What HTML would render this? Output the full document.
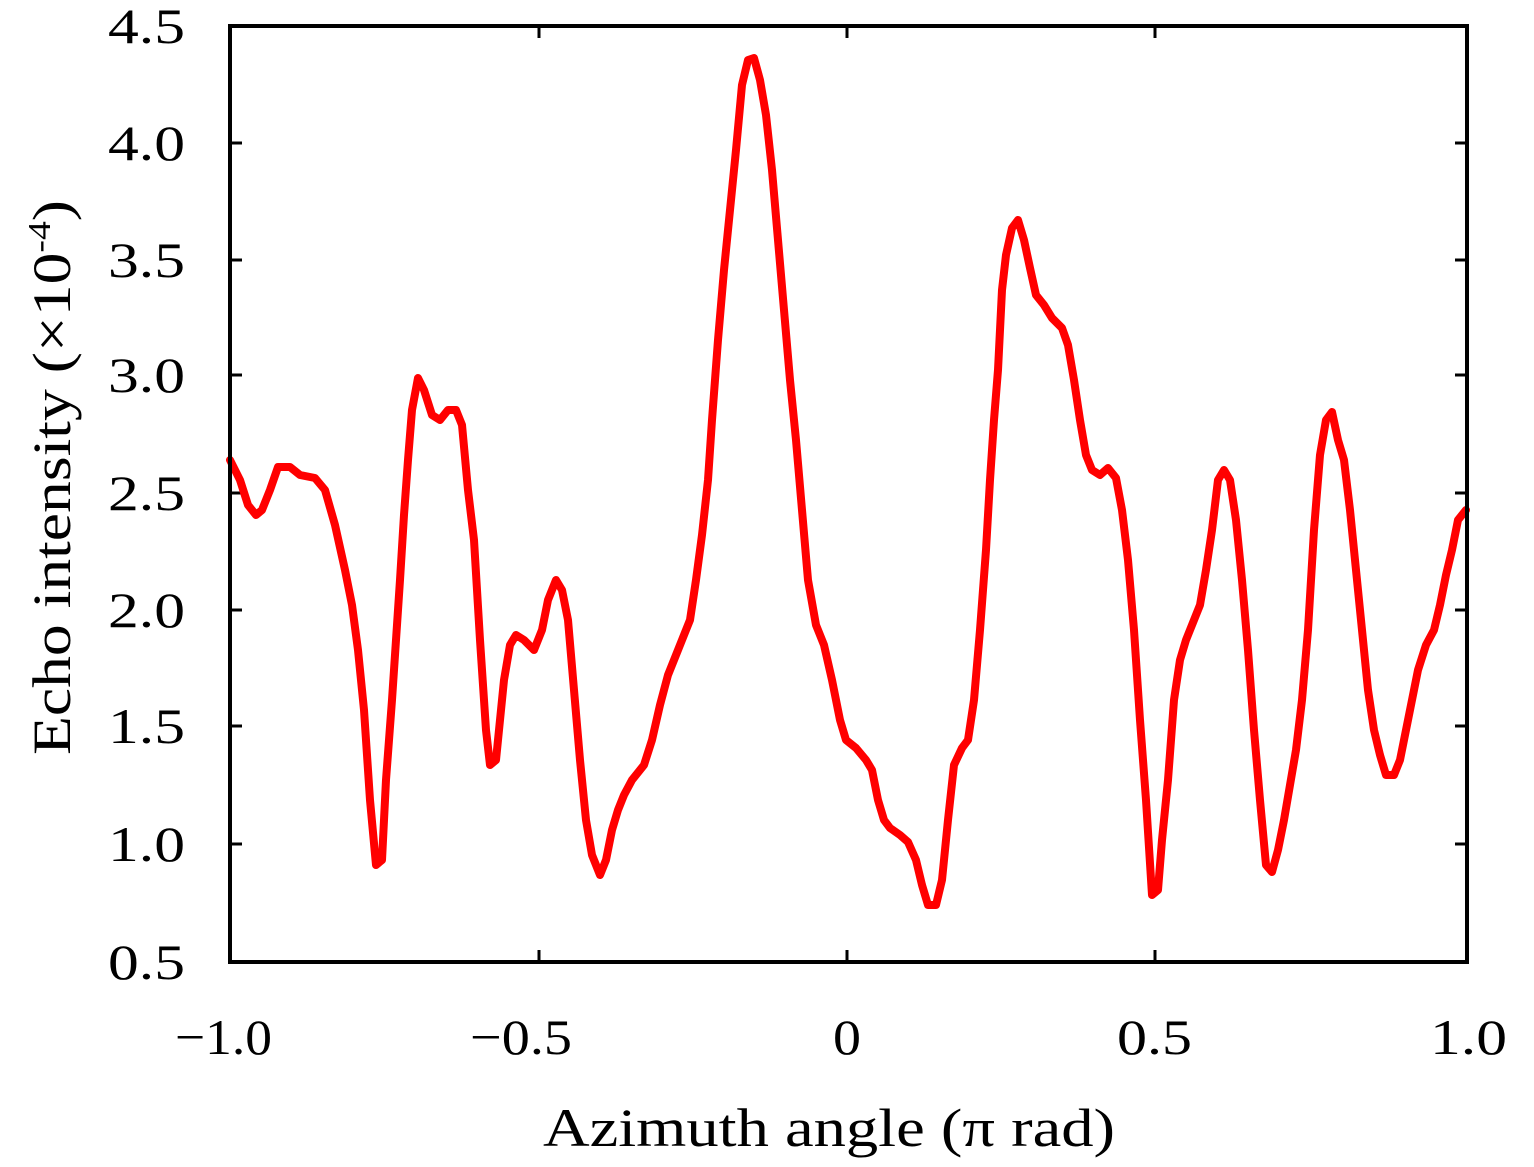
<!DOCTYPE html>
<html><head><meta charset="utf-8"><style>
html,body{margin:0;padding:0;background:#fff;}
svg text{font-family:"Liberation Serif",serif;fill:#000;}
</style></head><body>
<svg width="1534" height="1162" viewBox="0 0 1534 1162" xmlns="http://www.w3.org/2000/svg">
<rect width="1534" height="1162" fill="#fff"/>
<g stroke="#000" stroke-width="3">
<line x1="230" y1="143" x2="242" y2="143"/><line x1="230" y1="260" x2="242" y2="260"/><line x1="230" y1="375" x2="242" y2="375"/><line x1="230" y1="493" x2="242" y2="493"/><line x1="230" y1="610" x2="242" y2="610"/><line x1="230" y1="726" x2="242" y2="726"/><line x1="230" y1="844" x2="242" y2="844"/>
<line x1="1467" y1="143" x2="1455" y2="143"/><line x1="1467" y1="260" x2="1455" y2="260"/><line x1="1467" y1="375" x2="1455" y2="375"/><line x1="1467" y1="493" x2="1455" y2="493"/><line x1="1467" y1="610" x2="1455" y2="610"/><line x1="1467" y1="726" x2="1455" y2="726"/><line x1="1467" y1="844" x2="1455" y2="844"/>
<line x1="539" y1="962" x2="539" y2="950"/><line x1="847" y1="962" x2="847" y2="950"/><line x1="1155" y1="962" x2="1155" y2="950"/>
<line x1="539" y1="26" x2="539" y2="38"/><line x1="847" y1="26" x2="847" y2="38"/><line x1="1155" y1="26" x2="1155" y2="38"/>
</g>
<polyline fill="none" stroke="#ff0000" stroke-width="8" stroke-linejoin="round" stroke-linecap="round" points="230,460 240,480 248,505 256,515 262,510 270,490 278,467 290,467 300,475 315,478 325,490 335,525 345,570 352,605 358,650 364,710 370,800 376,865 382,860 386,780 392,700 396,640 400,580 404,515 408,460 412,410 418,378 424,390 432,415 440,420 448,410 456,410 462,425 468,490 474,540 480,640 486,730 490,765 496,760 500,720 504,680 510,645 516,635 524,640 534,650 542,630 548,600 556,580 562,590 568,620 574,690 580,760 586,820 592,855 600,875 606,860 612,830 618,810 624,795 632,780 644,765 652,740 660,705 668,675 678,650 690,620 696,580 702,535 708,480 712,420 718,340 724,270 730,210 736,150 742,85 748,60 754,58 760,80 766,115 772,170 778,240 784,310 790,380 796,440 802,510 808,580 816,625 824,645 832,680 840,720 846,740 856,748 866,760 872,770 878,800 884,820 890,828 900,835 908,842 916,860 922,885 928,905 936,905 942,880 948,820 954,765 962,748 968,740 974,700 980,630 986,550 990,480 994,420 998,370 1002,290 1006,255 1012,228 1018,220 1024,240 1030,268 1036,295 1044,305 1052,318 1062,328 1068,345 1074,380 1080,420 1086,455 1092,470 1100,475 1108,468 1116,478 1122,510 1128,560 1134,630 1140,720 1146,800 1152,895 1158,890 1162,840 1168,780 1174,700 1180,660 1186,640 1192,625 1200,605 1206,570 1212,530 1218,480 1224,470 1230,480 1236,520 1242,580 1248,650 1254,730 1260,800 1266,865 1272,872 1278,850 1284,820 1290,785 1296,750 1302,700 1308,630 1314,530 1320,455 1326,420 1332,412 1338,440 1344,460 1350,510 1356,570 1362,630 1368,690 1374,730 1380,755 1386,775 1394,775 1400,760 1406,730 1412,700 1418,670 1426,645 1434,630 1440,605 1446,575 1452,550 1458,520 1466,510"/>
<rect x="230" y="26" width="1237" height="936" fill="none" stroke="#000" stroke-width="4"/>
<g font-size="50">
<text x="108" y="43" textLength="77" lengthAdjust="spacingAndGlyphs">4.5</text><text x="108" y="160" textLength="77" lengthAdjust="spacingAndGlyphs">4.0</text><text x="108" y="277" textLength="77" lengthAdjust="spacingAndGlyphs">3.5</text><text x="108" y="392" textLength="77" lengthAdjust="spacingAndGlyphs">3.0</text><text x="108" y="510" textLength="77" lengthAdjust="spacingAndGlyphs">2.5</text><text x="108" y="627" textLength="77" lengthAdjust="spacingAndGlyphs">2.0</text><text x="108" y="743" textLength="77" lengthAdjust="spacingAndGlyphs">1.5</text><text x="108" y="861" textLength="77" lengthAdjust="spacingAndGlyphs">1.0</text><text x="108" y="979" textLength="77" lengthAdjust="spacingAndGlyphs">0.5</text>
</g>
<g font-size="50">
<text x="175" y="1054" textLength="97" lengthAdjust="spacingAndGlyphs">−1.0</text><text x="470" y="1054" textLength="102" lengthAdjust="spacingAndGlyphs">−0.5</text><text x="833" y="1054" textLength="28" lengthAdjust="spacingAndGlyphs">0</text><text x="1117" y="1054" textLength="75" lengthAdjust="spacingAndGlyphs">0.5</text><text x="1430" y="1054" textLength="77" lengthAdjust="spacingAndGlyphs">1.0</text>
</g>
<text x="543" y="1146" font-size="54" textLength="572" lengthAdjust="spacingAndGlyphs">Azimuth angle (π rad)</text>
<text transform="translate(70,755) rotate(-90)" font-size="54" textLength="555" lengthAdjust="spacingAndGlyphs">Echo intensity (×10<tspan font-size="32" dy="-20">-4</tspan><tspan dy="20">)</tspan></text>
</svg>
</body></html>
